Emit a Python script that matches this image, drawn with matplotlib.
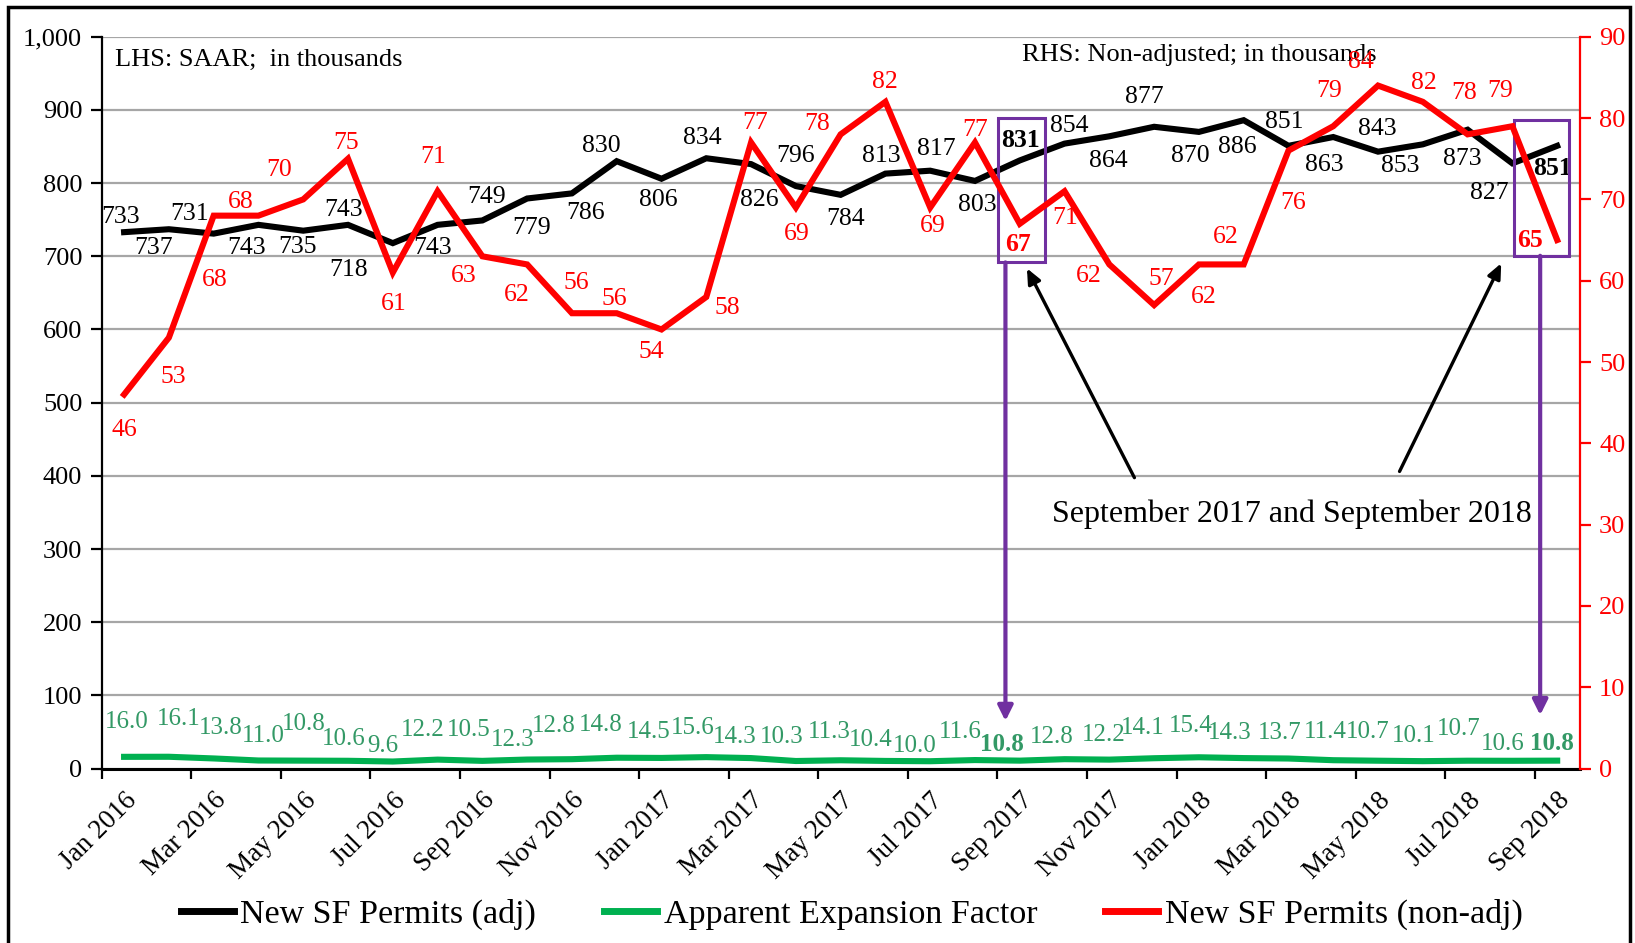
import matplotlib
matplotlib.use("Agg")
import matplotlib.pyplot as plt
from matplotlib.lines import Line2D
import numpy as np

plt.rcParams['font.family'] = ['Liberation Serif', 'DejaVu Serif']

# months Jan 2016 .. Sep 2018
months = ['Jan 2016', 'Feb 2016', 'Mar 2016', 'Apr 2016', 'May 2016', 'Jun 2016',
          'Jul 2016', 'Aug 2016', 'Sep 2016', 'Oct 2016', 'Nov 2016', 'Dec 2016',
          'Jan 2017', 'Feb 2017', 'Mar 2017', 'Apr 2017', 'May 2017', 'Jun 2017',
          'Jul 2017', 'Aug 2017', 'Sep 2017', 'Oct 2017', 'Nov 2017', 'Dec 2017',
          'Jan 2018', 'Feb 2018', 'Mar 2018', 'Apr 2018', 'May 2018', 'Jun 2018',
          'Jul 2018', 'Aug 2018', 'Sep 2018']

permits_adj = [733, 737, 731, 743, 735, 743, 718, 743, 749, 779, 786, 830,
               806, 834, 826, 796, 784, 813, 817, 803, 831, 854, 864, 877,
               870, 886, 851, 863, 843, 853, 873, 827, 851]

permits_nonadj = [46, 53, 68, 68, 70, 75, 61, 71, 63, 62, 56, 56,
                  54, 58, 77, 69, 78, 82, 69, 77, 67, 71, 62, 57,
                  62, 62, 76, 79, 84, 82, 78, 79, 65]

expansion = [16.0, 16.1, 13.8, 11.0, 10.8, 10.6, 9.6, 12.2, 10.5, 12.3, 12.8, 14.8,
             14.5, 15.6, 14.3, 10.3, 11.3, 10.4, 10.0, 11.6, 10.8, 12.8, 12.2, 14.1,
             15.4, 14.3, 13.7, 11.4, 10.7, 10.1, 10.7, 10.6, 10.8]

highlight = [20, 32]   # Sep 2017, Sep 2018

# label offsets in pixels (dx, dy downwards)
adj_off = [(-4, -15), (-15, 19), (-24, -20), (-12, 23), (-6, 16), (-4, -15), (-44, 27),
           (-5, 23), (4, -23), (4, 30), (14, 20), (-15, -15), (-3, 21), (-4, -20),
           (8, 36), (0, -30), (5, 24), (-4, -18), (6, -22), (2, 24), (1, -20),
           (5, -18), (-1, 25), (-10, -30), (-9, 24), (-6, 27), (-4, -24), (-9, 28),
           (-1, -23), (-23, 22), (-5, 29), (-23, 30), (-5, 23)]
nonadj_off = [(0, 35), (4, 39), (1, 64), (-18, -14), (-24, -29), (-2, -16), (1, 31),
              (-4, -34), (-19, 20), (-10, 31), (4, -30), (-2, -14), (-10, 23), (21, 11),
              (4, -19), (1, 26), (-24, -10), (-1, -20), (3, 18), (0, -12), (-2, 21),
              (1, 27), (-21, 12), (7, -26), (5, 33), (-18, -27), (5, 52), (-4, -35),
              (-17, -24), (1, -19), (-3, -41), (-12, -35), (-27, 0)]
exp_dx = [3, 10, 7, 5, 1, -4, -10, -15, -14, -14, -18, -16, -13, -14, -16, -14, -11,
          -15, -15, -15, -18, -13, -6, -11, -8, -14, -9, -8, -10, -9, -9, -10, -5]
exp_dy = [-35, -38, -30, -24, -37, -22, -16, -30, -31, -20, -33, -33, -26, -29, -21,
          -24, -28, -21, -15, -28, -16, -22, -25, -30, -31, -25, -26, -28, -29, -25,
          -32, -17, -17]

RED = '#ff0000'
GREEN = '#00b050'
GREEN_TXT = '#339966'
PURPLE = '#7030a0'

fig = plt.figure(figsize=(16.35, 9.43), dpi=100)
ax = fig.add_axes([0.0622, 0.185, 0.9039, 0.776])
ax2 = ax.twinx()

x = np.arange(len(months))

ax.plot(x, permits_adj, color='black', lw=4.4, solid_joinstyle='miter', zorder=3)
ax.plot(x, expansion, color=GREEN, lw=4.4, zorder=3)
ax2.plot(x, permits_nonadj, color=RED, lw=4.4, solid_joinstyle='miter', zorder=3)

ax.set_xlim(-0.5, len(months) - 0.5)
ax.set_ylim(0, 1000)
ax2.set_ylim(0, 90)

ax.set_yticks(range(0, 1001, 100))
ax.set_yticklabels([f'{v:,}' for v in range(0, 1001, 100)])
ax2.set_yticks(range(0, 91, 10))
ax.yaxis.grid(True, color='#a6a6a6', lw=1.6)
ax.set_axisbelow(True)

ax.set_xticks(x[::2])
ax.set_xticklabels(months[::2], rotation=45, ha='right', va='top',
                   rotation_mode='anchor', fontsize=19.5)
ax.set_xticks(np.arange(-0.5, len(months) - 1, 2), minor=True)
ax.tick_params(axis='x', which='major', length=0, pad=14)
ax.tick_params(axis='x', which='minor', length=7, width=1.6, direction='out')
ax.tick_params(axis='y', labelsize=19, length=8, width=1.6, direction='out', pad=6)
ax2.tick_params(axis='y', labelsize=19, length=8, width=1.6, direction='out',
                colors=RED, pad=6)

ax.spines['top'].set_visible(False)
ax2.spines['top'].set_visible(False)
ax.spines['right'].set_visible(False)
ax.spines['left'].set_linewidth(1.6)
ax.spines['bottom'].set_linewidth(2.2)
ax2.spines['left'].set_visible(False)
ax2.spines['bottom'].set_visible(False)
ax2.spines['right'].set_color(RED)
ax2.spines['right'].set_linewidth(1.6)

# data labels
for i in range(len(months)):
    bold = 'bold' if i in highlight else 'normal'
    dx, dy = adj_off[i]
    ax.annotate(str(permits_adj[i]), (x[i], permits_adj[i]), xytext=(dx, -dy),
                textcoords='offset pixels', ha='center', va='center',
                fontsize=18.5, fontweight=bold, color='black', zorder=5)
    dx, dy = nonadj_off[i]
    ax2.annotate(str(permits_nonadj[i]), (x[i], permits_nonadj[i]), xytext=(dx, -dy),
                 textcoords='offset pixels', ha='center', va='center',
                 fontsize=18.5, fontweight=bold, color=RED, zorder=5)
    ax.annotate(f'{expansion[i]:.1f}', (x[i], expansion[i]), xytext=(exp_dx[i], -exp_dy[i]),
                textcoords='offset pixels', ha='center', va='center',
                fontsize=18, fontweight=bold, color=GREEN_TXT, zorder=5)

ax.text(0.009, 0.968, 'LHS: SAAR;  in thousands', transform=ax.transAxes,
        fontsize=19, va='center', ha='left')
ax.text(0.6227, 0.975, 'RHS: Non-adjusted; in thousands', transform=ax.transAxes,
        fontsize=19, va='center', ha='left')

# highlight boxes and arrows
boxes = [(19.52, 20.57, 691.7, 888.5), (31.03, 32.26, 700.7, 886.0)]
arrow_x = [19.68, 31.62]
arrow_tip = [65, 73]
for (x0, x1, y0, y1), ax_x, tip in zip(boxes, arrow_x, arrow_tip):
    ax.add_patch(plt.Rectangle((x0, y0), x1 - x0, y1 - y0, fill=False,
                               edgecolor=PURPLE, lw=2.2, zorder=6))
    ax.annotate('', xy=(ax_x, tip), xytext=(ax_x, y0),
                arrowprops=dict(arrowstyle='-|>,head_length=0.9,head_width=0.45',
                                color=PURPLE, lw=3, shrinkA=0, shrinkB=0), zorder=6)

ax.text(26.08, 347.8, 'September 2017 and September 2018', fontsize=23,
        ha='center', va='center', zorder=6)
for tail, tip in [((22.56, 397.5), (20.16, 683.5)), ((28.48, 406.0), (30.75, 690.4))]:
    ax.annotate('', xy=tip, xytext=tail,
                arrowprops=dict(arrowstyle='-|>,head_length=0.9,head_width=0.4',
                                color='black', lw=2.4, shrinkA=0, shrinkB=0), zorder=6)

handles = [Line2D([], [], color='black', lw=5),
           Line2D([], [], color=GREEN, lw=5),
           Line2D([], [], color=RED, lw=5)]
fig.legend(handles, ['New SF Permits (adj)', 'Apparent Expansion Factor',
                     'New SF Permits (non-adj)'],
           loc='center', bbox_to_anchor=(0.521, 0.03), ncol=3, frameon=False,
           fontsize=24.5, handlelength=1.55, handletextpad=0.2, columnspacing=2.0)

# outer frame
fig.add_artist(plt.Rectangle((0.005, -0.01), 0.992, 1.003, fill=False,
                             edgecolor='black', lw=2.5, transform=fig.transFigure))

fig.savefig('out.png', dpi=100)
